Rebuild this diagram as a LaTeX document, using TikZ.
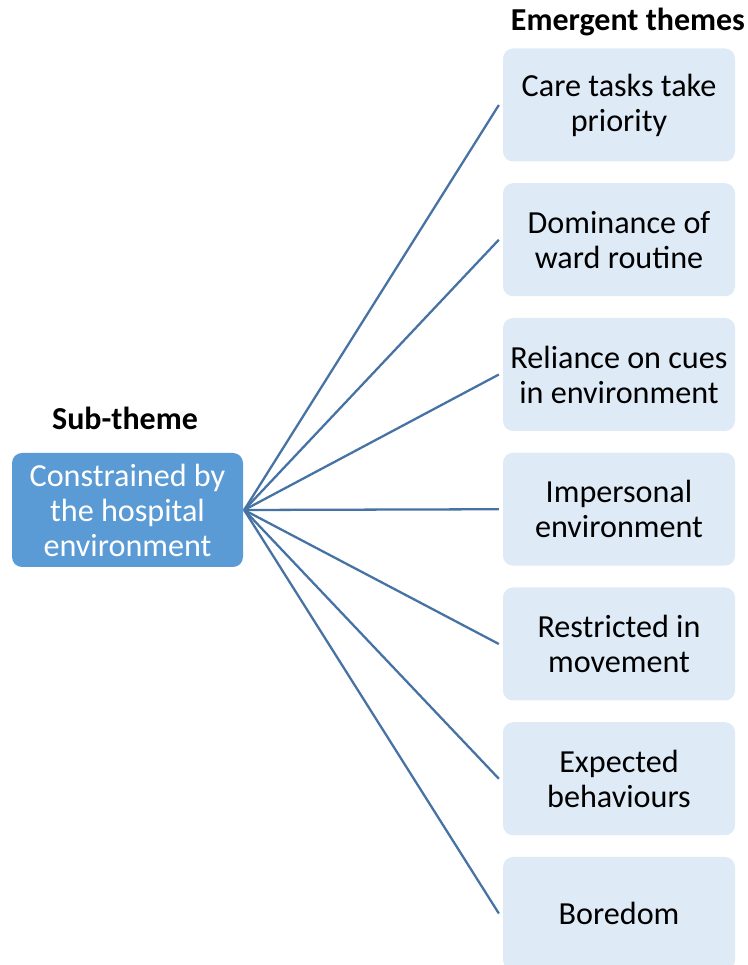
\documentclass[tikz,border=0pt]{standalone}
\usepackage{fontspec}
\setmainfont{Carlito}
\usetikzlibrary{positioning}
\definecolor{subfill}{HTML}{5B9BD5}
\definecolor{themefill}{HTML}{DEEAF6}
\definecolor{linkcol}{HTML}{4672A4}

\begin{document}
\begin{tikzpicture}[line width=1.3pt,
    theme/.style={fill=themefill,rounded corners=0.2cm,minimum width=4.64cm,minimum height=2.26cm,
      align=center,font=\fontsize{18.3}{19.9}\selectfont,inner sep=0pt},
    subtheme/.style={fill=subfill,rounded corners=0.2cm,minimum width=4.62cm,minimum height=2.28cm,
      align=center,text=white,font=\fontsize{18.3}{19.9}\selectfont,inner sep=0pt},
    heading/.style={font=\fontsize{18.2}{20}\selectfont\bfseries},
    link/.style={draw=linkcol}]

    \useasboundingbox (0,0) rectangle (14.96,19.3);
    \clip (0,0) rectangle (14.96,19.3);

    %\draw [dashed] (0,0) rectangle (14.96,19.3);
    \node[heading] (subhead) at (2.5,10.94) {Sub-theme};
    \node[heading] (themehead) at (12.56,18.86) {Emergent themes};

    \node[subtheme] (sub) at (2.55,9.1) {Constrained by\\the hospital\\environment};

    \node[theme] (t1) at (12.38,17.2) {Care tasks take\\priority};
    \node[theme] (t2) at (12.38,14.505) {Dominance of\\ward routine};
    \node[theme] (t3) at (12.38,11.81) {Reliance on cues\\in environment};
    \node[theme] (t4) at (12.38,9.115) {Impersonal\\environment};
    \node[theme] (t5) at (12.38,6.42) {Restricted in\\movement};
    \node[theme] (t6) at (12.38,3.725) {Expected\\behaviours};
    \node[theme] (t7) at (12.38,1.03) {Boredom};

    \draw[link] (sub.east) -- ([xshift=-0.06cm]t1.west);
    \draw[link] (sub.east) -- ([xshift=-0.06cm]t2.west);
    \draw[link] (sub.east) -- ([xshift=-0.06cm]t3.west);
    \draw[link] (sub.east) -- ([xshift=-0.06cm]t4.west);
    \draw[link] (sub.east) -- ([xshift=-0.06cm]t5.west);
    \draw[link] (sub.east) -- ([xshift=-0.06cm]t6.west);
    \draw[link] (sub.east) -- ([xshift=-0.06cm]t7.west);
  \end{tikzpicture}
\end{document}
